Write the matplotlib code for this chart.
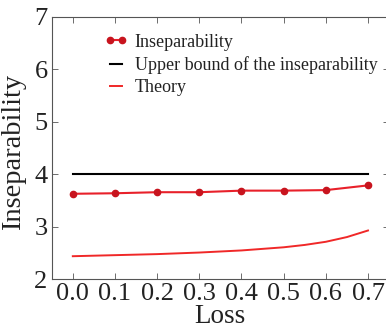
import matplotlib
matplotlib.use("Agg")
import matplotlib.pyplot as plt

loss = [0.0, 0.1, 0.2, 0.3, 0.4, 0.5, 0.6, 0.7]
insep = [3.63, 3.64, 3.66, 3.66, 3.69, 3.69, 3.70, 3.79]
upper_x = [0.0, 0.7]
upper_y = [4.0, 4.0]
theory_x = [0.0, 0.05, 0.1, 0.15, 0.2, 0.25, 0.3, 0.35, 0.4, 0.45, 0.5, 0.55, 0.6, 0.65, 0.7]
theory_y = [2.44, 2.45, 2.46, 2.47, 2.48, 2.495, 2.51, 2.53, 2.55, 2.58, 2.61, 2.655, 2.715, 2.805, 2.93]
xticks = [0.0, 0.1, 0.2, 0.3, 0.4, 0.5, 0.6, 0.7]
xticklabels = ["0.0", "0.1", "0.2", "0.3", "0.4", "0.5", "0.6", "0.7"]
yticks = [2, 3, 4, 5, 6, 7]

plt.rcParams['font.family'] = ['Liberation Serif', 'DejaVu Serif']
plt.rcParams['mathtext.fontset'] = 'stix'

fig = plt.figure(figsize=(3.86, 3.28), dpi=100)
ax = fig.add_axes([0.134, 0.1485, 0.874, 0.7997])

ax.plot(loss, insep, color='#e8202a', lw=1.5, marker='o', ms=4.5,
        mfc='#c8141e', mec='#c8141e', label='Inseparability', zorder=3)
ax.plot(upper_x, upper_y, color='black', lw=1.5, label='Upper bound of the inseparability')
ax.plot(theory_x, theory_y, color='#f02828', lw=1.4, label='Theory')

ax.set_xlim(-0.05, 0.75)
ax.set_ylim(2, 7)
ax.set_xticks(xticks)
ax.set_xticklabels(xticklabels)
ax.set_yticks(yticks)
ax.tick_params(direction='in', top=True, right=True, labelsize=19, length=4, width=0.6,
               colors='#555555', labelcolor='#222222', pad=3)
for s in ax.spines.values():
    s.set_color('#555555')
    s.set_linewidth(0.8)

ax.set_xlabel('Loss', fontsize=19.5, labelpad=-1, color='#222222')
ax.set_ylabel('Inseparability', fontsize=20.5, color='#222222')
ax.yaxis.set_label_coords(-0.075, 0.485)

leg = ax.legend(loc='upper left', bbox_to_anchor=(0.12, 0.985), frameon=False,
                fontsize=13, numpoints=2, handlelength=1.25, handletextpad=0.4,
                labelspacing=0.3, borderpad=0.2)
for t in leg.get_texts():
    t.set_color('#222222')

fig.savefig('out.png', dpi=100)
